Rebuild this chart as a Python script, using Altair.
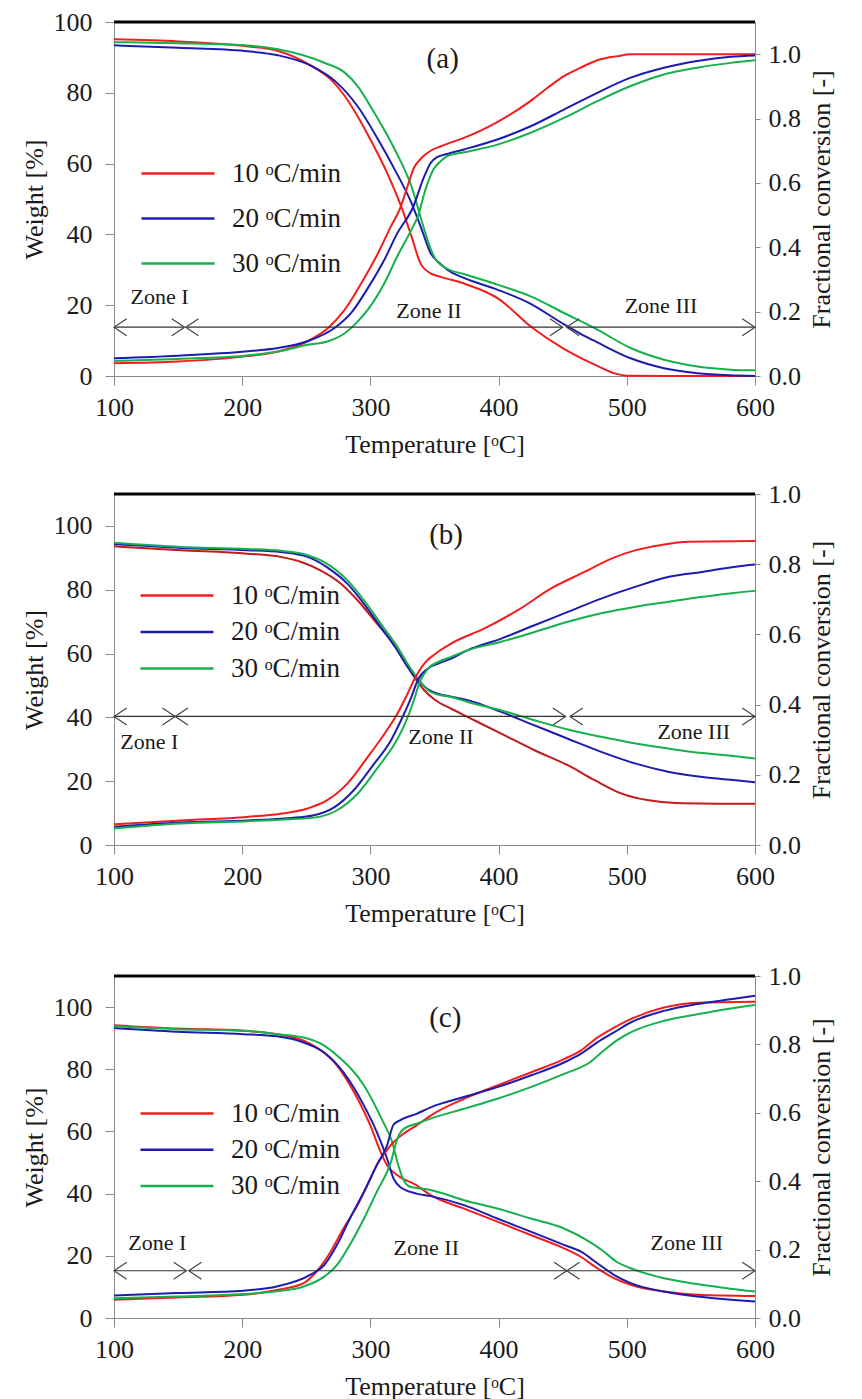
import altair as alt
import pandas as pd

RATES = ["10 ᵒC/min", "20 ᵒC/min", "30 ᵒC/min"]
COLORS = ["#f41c1c", "#1c1cb0", "#16b04c"]
COLORS_B_WEIGHT = ["#c41a1a", "#1c1cb0", "#16b04c"]
X_TICKS = [100, 200, 300, 400, 500, 600]
W_TICKS = [0, 20, 40, 60, 80, 100]
C_TICKS = [0.0, 0.2, 0.4, 0.6, 0.8, 1.0]
ZONES = ["Zone I", "Zone II", "Zone III"]

# ---------------- panel (a) ----------------
a_w10 = [(100,95.1),(150,94.5),(202,93.2),(228,91.8),(254,87.6),(269,83.8),(280,79.1),(290,73.4),(300,66.8),(313,57.4),(324,47.9),(332,39.5),(339,31.9),(347,29.0),(355,28.0),(374,26.0),(400,21.8),(425,14.0),(450,7.9),(475,3.2),(492,0.6),(500,0.1),(550,0.0),(600,0.0)]
a_w20 = [(100,93.4),(150,92.7),(202,91.8),(228,90.6),(254,87.6),(274,82.8),(290,76.2),(306,66.8),(319,58.3),(332,48.9),(340,41.4),(347,34.7),(355,31.6),(360,30.0),(373,27.7),(399,24.4),(425,20.4),(451,14.6),(464,11.9),(477,9.5),(503,5.0),(529,2.2),(555,0.8),(581,0.2),(600,0.0)]
a_w30 = [(100,94.3),(150,94.0),(202,93.4),(228,92.3),(264,88.5),(280,85.7),(290,81.9),(303,74.4),(319,64.0),(332,53.6),(342,41.4),(348,35.0),(351,32.9),(360,30.3),(373,28.8),(399,25.8),(425,22.5),(451,17.8),(477,13.1),(503,7.9),(529,4.6),(555,2.7),(581,1.8),(600,1.6)]
a_c10 = [(100,0.040),(150,0.045),(202,0.061),(228,0.076),(251,0.108),(267,0.149),(280,0.206),(293,0.289),(306,0.382),(316,0.465),(323,0.519),(329,0.590),(334,0.647),(340,0.678),(347,0.700),(355,0.714),(373,0.740),(399,0.789),(425,0.855),(438,0.895),(451,0.932),(464,0.958),(477,0.981),(493,0.994),(503,1.0),(550,1.0),(600,1.0)]
a_c20 = [(100,0.055),(150,0.063),(202,0.076),(228,0.087),(251,0.108),(272,0.149),(285,0.196),(298,0.273),(311,0.362),(321,0.444),(333,0.522),(342,0.620),(347,0.662),(352,0.680),(360,0.690),(373,0.704),(399,0.735),(425,0.776),(451,0.828),(477,0.880),(503,0.927),(529,0.958),(555,0.979),(581,0.992),(600,0.996)]
a_c30 = [(100,0.047),(150,0.053),(202,0.063),(228,0.076),(251,0.097),(267,0.108),(280,0.133),(290,0.169),(298,0.206),(311,0.289),(321,0.372),(332,0.455),(337,0.496),(343,0.580),(349,0.641),(355,0.668),(360,0.683),(373,0.695),(399,0.719),(425,0.756),(451,0.802),(477,0.854),(503,0.901),(529,0.937),(555,0.958),(581,0.973),(600,0.981)]
a_arrow_y = 13.8
a_segments = [(100,155),(156,450),(453,600)]
a_zone_T = [135.6, 345.7, 526.7]
a_zone_w = [22.2, 18.3, 19.9]
a_tag = ("(a)", 356.4, 89.5)

# ---------------- panel (b) ----------------
b_w10 = [(100,93.6),(152,92.4),(204,91.3),(230,90.3),(246,88.7),(261,86.1),(277,81.9),(290,76.7),(303,70.4),(316,64.2),(327,57.9),(334,52.7),(342,48.5),(350,45.6),(363,42.7),(376,40.1),(402,34.9),(428,29.7),(454,25.0),(475,20.3),(496,16.1),(517,14.0),(538,13.2),(600,12.9)]
b_w20 = [(100,94.3),(152,93.1),(204,92.4),(230,91.8),(251,90.3),(266,87.1),(282,81.9),(295,75.6),(308,68.3),(321,61.0),(329,55.8),(337,51.6),(345,48.8),(352,47.5),(363,46.5),(376,45.4),(402,41.7),(428,37.5),(454,33.3),(480,29.2),(507,25.5),(533,22.9),(559,21.3),(585,20.3),(600,19.7)]
b_w30 = [(100,94.7),(152,93.4),(204,92.8),(230,92.2),(251,90.8),(266,88.2),(282,83.0),(295,76.7),(308,69.4),(321,62.1),(329,56.8),(337,52.1),(345,48.5),(352,47.2),(363,46.4),(376,44.8),(402,42.2),(428,39.1),(454,36.2),(480,33.9),(507,31.8),(533,30.2),(559,28.8),(585,27.8),(600,27.1)]
b_c10 = [(100,0.059),(152,0.070),(204,0.080),(230,0.089),(251,0.104),(266,0.127),(282,0.175),(298,0.251),(311,0.317),(321,0.374),(329,0.431),(334,0.470),(342,0.517),(350,0.543),(363,0.574),(389,0.617),(415,0.669),(441,0.731),(467,0.778),(488,0.816),(507,0.840),(527,0.855),(548,0.864),(600,0.866)]
b_c20 = [(100,0.052),(152,0.064),(204,0.070),(230,0.075),(256,0.085),(272,0.108),(287,0.156),(303,0.232),(316,0.298),(324,0.356),(332,0.422),(337,0.470),(345,0.503),(353,0.517),(363,0.531),(376,0.555),(402,0.588),(428,0.626),(454,0.664),(480,0.702),(507,0.736),(533,0.764),(559,0.778),(585,0.793),(600,0.799)]
b_c30 = [(100,0.047),(152,0.061),(204,0.068),(230,0.072),(256,0.078),(274,0.099),(290,0.146),(306,0.222),(319,0.289),(327,0.346),(334,0.413),(338,0.460),(345,0.503),(353,0.522),(363,0.536),(376,0.555),(402,0.579),(428,0.607),(454,0.636),(480,0.660),(507,0.679),(533,0.693),(559,0.707),(585,0.719),(600,0.724)]
b_arrow_y = 40.3
b_segments = [(100,147.7),(147.7,452.3),(455.7,600)]
b_zone_T = [127.6, 355.0, 552.2]
b_zone_w = [32.3, 33.9, 35.4]
b_tag = ("(b)", 359.0, 97.1)

# ---------------- panel (c) ----------------
c_w10 = [(100,94.2),(149,93.1),(201,92.4),(227,91.3),(248,89.2),(258,87.0),(274,81.2),(290,70.5),(300,61.9),(308,53.4),(313,49.1),(321,45.9),(336,42.7),(347,39.5),(373,35.2),(399,31.0),(425,26.7),(451,22.4),(464,19.7),(477,16.0),(490,12.8),(503,10.7),(529,8.5),(555,7.5),(600,7.1)]
c_w20 = [(100,93.3),(149,92.1),(201,91.3),(227,90.6),(248,88.6),(264,85.4),(279,79.0),(295,68.3),(305,59.8),(313,51.3),(318,44.9),(323,42.2),(336,40.0),(347,39.2),(373,36.3),(399,32.0),(425,27.8),(451,23.5),(464,21.4),(477,17.6),(490,13.9),(503,11.2),(529,8.5),(555,6.9),(581,5.9),(600,5.3)]
c_w30 = [(100,93.8),(149,92.9),(201,92.4),(227,91.3),(248,90.2),(264,87.6),(274,84.4),(295,74.8),(310,63.0),(317,56.6),(321,50.2),(326,44.3),(331,42.2),(347,41.2),(373,37.9),(399,35.2),(425,32.0),(451,28.8),(471,24.5),(482,21.4),(492,18.1),(503,16.0),(529,12.8),(555,10.9),(581,9.4),(600,8.5)]
c_c10 = [(100,0.053),(149,0.060),(201,0.068),(227,0.082),(248,0.102),(258,0.136),(269,0.194),(279,0.262),(290,0.330),(300,0.408),(305,0.447),(310,0.476),(318,0.514),(326,0.539),(336,0.563),(347,0.592),(373,0.641),(399,0.680),(425,0.718),(451,0.757),(464,0.782),(477,0.820),(490,0.849),(503,0.874),(529,0.908),(555,0.922),(600,0.925)]
c_c20 = [(100,0.066),(149,0.073),(201,0.080),(227,0.092),(253,0.126),(264,0.155),(274,0.214),(284,0.291),(295,0.369),(305,0.447),(313,0.505),(318,0.565),(323,0.578),(336,0.597),(347,0.616),(373,0.646),(399,0.675),(425,0.709),(451,0.747),(464,0.772),(477,0.806),(490,0.835),(503,0.864),(529,0.898),(555,0.918),(581,0.932),(600,0.942)]
c_c30 = [(100,0.058),(149,0.063),(201,0.070),(227,0.078),(248,0.092),(264,0.121),(274,0.155),(284,0.214),(295,0.291),(305,0.369),(316,0.456),(321,0.524),(326,0.553),(336,0.568),(347,0.583),(373,0.612),(399,0.641),(425,0.675),(451,0.714),(471,0.747),(482,0.782),(492,0.811),(503,0.835),(529,0.869),(555,0.888),(581,0.905),(600,0.915)]
c_arrow_y = 15.2
c_segments = [(100,156.5),(158.3,453.2),(453.2,600)]
c_zone_T = [133.7, 343.6, 546.8]
c_zone_w = [24.0, 22.4, 24.0]
c_tag = ("(c)", 358.4, 96.6)

FONT = "Liberation Serif"
W = 641
TXT = "#1a1a1a"
GRAY = "#8a8a8a"
LEFT_CHEV = "M1.5,-1L0,0L1.5,1"
RIGHT_CHEV = "M-1.5,-1L0,0L-1.5,1"


def series_df(lists):
    rows = []
    for rate, pts in zip(RATES, lists):
        for t, v in pts:
            rows.append({"T": t, "v": v, "rate": rate})
    return pd.DataFrame(rows)


def axis(**kw):
    base = dict(labelFont=FONT, titleFont=FONT, labelFontSize=26, titleFontSize=26,
                titleFontWeight="normal", labelColor=TXT, titleColor=TXT,
                domainColor=GRAY, tickColor=GRAY, tickSize=9, grid=False)
    base.update(kw)
    return alt.Axis(**base)


def panel(wlists, clists, wdom, cdom, h, arrow_y, segs, zT, zw, tag,
          legend_x, legend_y, row_pad, wcolors):
    xscale = alt.Scale(domain=[100, 600], nice=False, zero=False)
    xaxis = axis(values=X_TICKS, title="Temperature [ᵒC]", labelFlush=False,
                 labelPadding=9, titlePadding=11)
    wscale = alt.Scale(domain=wdom, nice=False, zero=False)
    cscale = alt.Scale(domain=cdom, nice=False, zero=False)

    def X(field):
        return alt.X(field, scale=xscale, axis=xaxis)

    weight = alt.Chart(series_df(wlists)).mark_line(
        strokeWidth=2, interpolate="monotone"
    ).encode(
        x=X("T:Q"),
        y=alt.Y("v:Q", scale=wscale,
                axis=axis(values=W_TICKS, title="Weight [%]", orient="left",
                          labelPadding=13, titlePadding=6)),
        color=alt.Color("rate:N", scale=alt.Scale(domain=RATES, range=wcolors),
                        legend=None),
    )

    conv = alt.Chart(series_df(clists)).mark_line(
        strokeWidth=2, interpolate="monotone"
    ).encode(
        x=X("T:Q"),
        y=alt.Y("v:Q", scale=cscale,
                axis=axis(values=C_TICKS, format=".1f", orient="right",
                          title="Fractional conversion  [-]",
                          titleAngle=270, titleBaseline="top", tickSize=5,
                          labelPadding=8, titlePadding=8)),
        color=alt.Color("rate:N", scale=alt.Scale(domain=RATES, range=COLORS),
                        title=None,
                        legend=alt.Legend(orient="none", legendX=legend_x,
                                          legendY=legend_y,
                                          symbolType="M-2.6,0L12,0",
                                          symbolSize=100,
                                          symbolStrokeWidth=2.5,
                                          symbolOpacity=1,
                                          labelFont=FONT, labelFontSize=27,
                                          labelColor=TXT,
                                          labelOffset=64, rowPadding=row_pad,
                                          padding=0, labelLimit=300)),
    )

    seg_df = pd.DataFrame({"x1": [s[0] for s in segs],
                           "x2": [s[1] for s in segs],
                           "y": [arrow_y] * len(segs)})
    rule = alt.Chart(seg_df).mark_rule(color="#333333", strokeWidth=1.2).encode(
        x=X("x1:Q"), x2="x2:Q",
        y=alt.Y("y:Q", scale=wscale, axis=None))
    lheads = alt.Chart(seg_df).mark_point(
        shape=LEFT_CHEV, filled=False, size=289, color="#444444",
        strokeWidth=1.2, opacity=1
    ).encode(x=X("x1:Q"), y=alt.Y("y:Q", scale=wscale, axis=None))
    rheads = alt.Chart(seg_df).mark_point(
        shape=RIGHT_CHEV, filled=False, size=289, color="#444444",
        strokeWidth=1.2, opacity=1
    ).encode(x=X("x2:Q"), y=alt.Y("y:Q", scale=wscale, axis=None))

    zone_df = pd.DataFrame({"T": zT, "w": zw, "text": ZONES})
    zones = alt.Chart(zone_df).mark_text(font=FONT, fontSize=22, color=TXT).encode(
        x=X("T:Q"), y=alt.Y("w:Q", scale=wscale, axis=None), text="text:N")

    tag_df = pd.DataFrame({"T": [tag[1]], "w": [tag[2]], "text": [tag[0]]})
    tag_mark = alt.Chart(tag_df).mark_text(font=FONT, fontSize=29, color=TXT).encode(
        x=X("T:Q"), y=alt.Y("w:Q", scale=wscale, axis=None), text="text:N")

    top = alt.Chart(pd.DataFrame({"k": [0]})).mark_rule(
        color="black", strokeWidth=3
    ).encode(x=alt.value(0), x2=alt.value(W), y=alt.value(0))

    return alt.layer(weight, conv, rule, lheads, rheads, zones, tag_mark, top).resolve_scale(
        y="independent", color="independent").properties(width=W, height=h)


pa = panel([a_w10, a_w20, a_w30], [a_c10, a_c20, a_c30], [0, 100], [0, 1.1], 354,
           a_arrow_y, a_segments, a_zone_T, a_zone_w, a_tag, 27, 138, 17, COLORS)
pb = panel([b_w10, b_w20, b_w30], [b_c10, b_c20, b_c30], [0, 110], [0, 1.0], 351,
           b_arrow_y, b_segments, b_zone_T, b_zone_w, b_tag, 26, 88, 8.5,
           COLORS_B_WEIGHT)
pc = panel([c_w10, c_w20, c_w30], [c_c10, c_c20, c_c30], [0, 110], [0, 1.0], 342,
           c_arrow_y, c_segments, c_zone_T, c_zone_w, c_tag, 26, 124, 8.2, COLORS)

top_pair = alt.vconcat(pa, pb, spacing=22).resolve_scale(
    color="independent").resolve_legend(color="independent")
chart = alt.vconcat(top_pair, pc, spacing=35).resolve_scale(
    color="independent").resolve_legend(color="independent").properties(
    padding={"left": 12, "top": 0, "right": 0, "bottom": 0}
).configure_view(stroke=GRAY)

chart.save("out.html", embed_options={"renderer": "svg", "actions": False})
